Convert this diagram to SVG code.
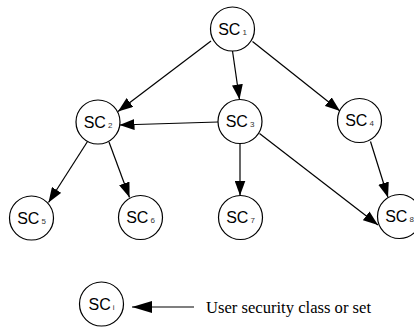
<svg xmlns="http://www.w3.org/2000/svg" width="414" height="328" viewBox="0 0 414 328">
<style>
.n circle{fill:#fff;stroke:#000;stroke-width:1.2}
.n text{font-family:"Liberation Sans",Arial,sans-serif;font-size:16px;fill:#000;text-anchor:middle}
.n tspan{font-size:8px;fill:#333}
.e line{stroke:#000;stroke-width:1.2}
.lbl{font-family:"Liberation Serif","Times New Roman",serif;font-size:16px;fill:#000}
</style>
<defs>
<marker id="ah" markerUnits="userSpaceOnUse" markerWidth="15" markerHeight="11" refX="15" refY="5.5" orient="auto">
<path d="M0,0 L15,5.5 L0,11 z" fill="#000"/>
</marker>
<marker id="ahL" markerUnits="userSpaceOnUse" markerWidth="20" markerHeight="12" refX="20" refY="6" orient="auto">
<path d="M0,0 L20,6 L0,12 z" fill="#000"/>
</marker>
</defs>
<g id="edges" class="e">
<line x1="211" y1="41" x2="118" y2="111.5" marker-end="url(#ah)"/>
<line x1="232.5" y1="51" x2="239.5" y2="99.5" marker-end="url(#ah)"/>
<line x1="252.5" y1="41.5" x2="340" y2="111" marker-end="url(#ah)"/>
<line x1="218" y1="122" x2="119.5" y2="125" marker-end="url(#ah)"/>
<line x1="240" y1="143.5" x2="240" y2="195.5" marker-end="url(#ah)"/>
<line x1="259.5" y1="133.5" x2="378" y2="225" marker-end="url(#ah)"/>
<line x1="370.5" y1="141.5" x2="388" y2="197.5" marker-end="url(#ah)"/>
<line x1="87.5" y1="141.5" x2="48.5" y2="202.5" marker-end="url(#ah)"/>
<line x1="109" y1="142" x2="129.5" y2="197.5" marker-end="url(#ah)"/>
<line x1="194" y1="307" x2="132" y2="307" marker-end="url(#ahL)"/>
</g>
<g id="sc1" class="n"><circle cx="232.5" cy="29" r="22"/><text x="232.5" y="34.5">SC<tspan dx="2">1</tspan></text></g>
<g id="sc2" class="n"><circle cx="98" cy="122" r="22"/><text x="98" y="127.5">SC<tspan dx="2">2</tspan></text></g>
<g id="sc3" class="n"><circle cx="240" cy="121.5" r="22"/><text x="240" y="127">SC<tspan dx="2">3</tspan></text></g>
<g id="sc4" class="n"><circle cx="359.5" cy="120.5" r="22"/><text x="359.5" y="126">SC<tspan dx="2">4</tspan></text></g>
<g id="sc5" class="n"><circle cx="31.5" cy="218" r="22"/><text x="31.5" y="223.5">SC<tspan dx="2">5</tspan></text></g>
<g id="sc6" class="n"><circle cx="140.5" cy="217.5" r="22"/><text x="140.5" y="223">SC<tspan dx="2">6</tspan></text></g>
<g id="sc7" class="n"><circle cx="240.5" cy="217.5" r="22"/><text x="240.5" y="223">SC<tspan dx="2">7</tspan></text></g>
<g id="sc8" class="n"><circle cx="399.5" cy="216.5" r="22"/><text x="399.5" y="222">SC<tspan dx="2">8</tspan></text></g>
<g id="sci" class="n"><circle cx="101.5" cy="304" r="22"/><text x="101.5" y="309.5">SC<tspan dx="2">i</tspan></text></g>
<text id="legend" class="lbl" x="206" y="313" textLength="165" lengthAdjust="spacingAndGlyphs">User security class or set</text>
</svg>
